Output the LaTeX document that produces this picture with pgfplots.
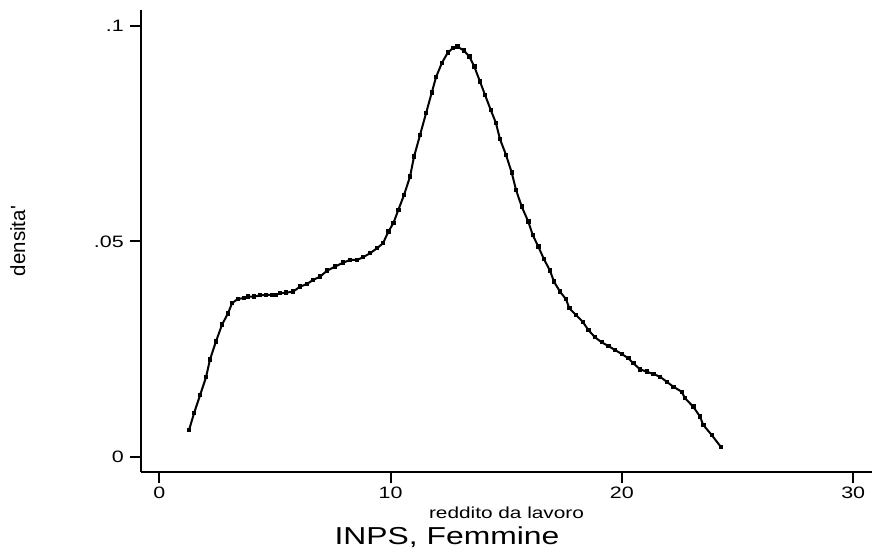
\documentclass[border=0pt]{standalone}
\usepackage{fontspec}
\setmainfont{Liberation Sans}[FakeStretch=1.3]
\newfontfamily\ylabfont{Liberation Sans}
\usepackage{pgfplots}
\pgfplotsset{compat=1.18}
\begin{document}
\begin{tikzpicture}
\useasboundingbox (0,0) rectangle (875pt,557pt);
\begin{axis}[
  at={(141.3pt,85pt)}, anchor=south west,
  width=730.4pt, height=462pt, scale only axis,
  xmin=-0.78, xmax=30.8, ymin=-0.00355, ymax=0.1037,
  axis lines=left,
  axis line style={-, line width=1.8pt},
  tick align=outside,
  major tick length=11pt,
  tick style={line width=1.8pt, black},
  xtick={0,10,20,30},
  ytick={0,0.05,0.1},
  yticklabels={0,.05,.1},
  /pgf/number format/assume math mode=true,
  ticklabel style={font=\fontsize{16.5}{16.5}\selectfont},
  yticklabel style={xshift=-3pt},
  xlabel={reddito da lavoro},
  xlabel style={at={(axis description cs:0.5,-0.0996)}, anchor=base, font=\fontsize{16}{16}\selectfont},
  ylabel={densita'},
  ylabel style={at={(axis description cs:-0.169,0.5)}, anchor=center, font=\ylabfont\fontsize{20.5}{20.5}\selectfont},
  clip=false,
]
\addplot[black, line width=2pt, mark=square*, mark size=1.2pt, mark options={solid}] coordinates {
(1.284,0.0062)
(1.500,0.01008)
(1.759,0.01426)
(2.019,0.01844)
(2.192,0.02261)
(2.451,0.02679)
(2.711,0.03065)
(2.970,0.03329)
(3.143,0.03562)
(3.402,0.03668)
(3.662,0.03678)
(3.835,0.03715)
(4.094,0.03715)
(4.354,0.03747)
(4.613,0.03754)
(4.873,0.03754)
(5.046,0.03754)
(5.219,0.03794)
(5.478,0.03808)
(5.780,0.03831)
(6.083,0.03947)
(6.386,0.04010)
(6.645,0.04103)
(6.947,0.04179)
(7.250,0.04319)
(7.596,0.04411)
(7.942,0.04504)
(8.245,0.04567)
(8.547,0.04567)
(8.807,0.04630)
(9.109,0.04723)
(9.412,0.04839)
(9.672,0.04955)
(9.901,0.05224)
(10.117,0.05419)
(10.333,0.05728)
(10.580,0.06076)
(10.839,0.06501)
(11.012,0.06965)
(11.272,0.07469)
(11.531,0.07973)
(11.777,0.08451)
(11.963,0.08809)
(12.209,0.09134)
(12.469,0.09380)
(12.685,0.09482)
(12.884,0.09519)
(13.174,0.09427)
(13.403,0.09287)
(13.619,0.09055)
(13.865,0.08707)
(14.082,0.08398)
(14.328,0.08050)
(14.557,0.07741)
(14.730,0.07369)
(14.990,0.07005)
(15.236,0.06594)
(15.422,0.06192)
(15.668,0.05805)
(15.953,0.05456)
(16.143,0.05148)
(16.386,0.04876)
(16.632,0.04583)
(16.891,0.04319)
(17.064,0.04063)
(17.324,0.03831)
(17.583,0.03655)
(17.726,0.03446)
(18.016,0.03290)
(18.305,0.03134)
(18.547,0.02942)
(18.837,0.02772)
(19.127,0.02656)
(19.412,0.02570)
(19.702,0.02477)
(19.991,0.02385)
(20.277,0.02285)
(20.493,0.02169)
(20.783,0.02029)
(21.072,0.01974)
(21.358,0.01920)
(21.647,0.01857)
(21.937,0.01741)
(22.222,0.01625)
(22.585,0.01509)
(22.728,0.01356)
(23.087,0.01161)
(23.377,0.00929)
(23.519,0.00736)
(23.882,0.00504)
(24.271,0.00232)
};
\node[anchor=base, font=\fontsize{24.5}{24.5}\selectfont] at (axis description cs:0.4185,-0.158) {INPS, Femmine};
\end{axis}
\end{tikzpicture}
\end{document}
